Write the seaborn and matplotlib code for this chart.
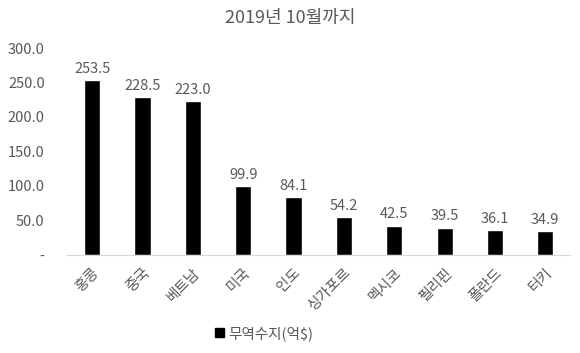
import matplotlib
matplotlib.use('Agg')
import matplotlib.pyplot as plt
import seaborn as sns
import pandas as pd
from matplotlib.ticker import FuncFormatter
from matplotlib.patches import Patch

countries = ['홍콩', '중국', '베트남', '미국', '인도', '싱가포르', '멕시코', '필리핀', '폴란드', '터키']
balance = [253.5, 228.5, 223.0, 99.9, 84.1, 54.2, 42.5, 39.5, 36.1, 34.9]
series_name = '무역수지(억$)'
title = '2019년 10월까지'

sns.set_style('white')
plt.rcParams['font.family'] = ['Noto Sans CJK KR', 'DejaVu Sans']
plt.rcParams['font.weight'] = 'light'
text_color = '#595959'

df = pd.DataFrame({'country': countries, 'value': balance})

fig = plt.figure(figsize=(5.8, 3.53), dpi=100)
ax = fig.add_axes([0.1155, 0.278, 0.868, 0.586])
sns.barplot(data=df, x='country', y='value', color='black', width=0.32,
            saturation=1, ax=ax)

ax.set_ylim(0, 300)
ax.set_yticks([0, 50, 100, 150, 200, 250, 300])
ax.yaxis.set_major_formatter(FuncFormatter(lambda v, p: '-' if v == 0 else f'{v:.1f}'))
ax.set_xlabel('')
ax.set_ylabel('')
for s in ['top', 'right', 'left']:
    ax.spines[s].set_visible(False)
ax.spines['bottom'].set_color('#d9d9d9')
ax.tick_params(axis='both', length=0, labelsize=10.5, colors=text_color, pad=8)
ax.tick_params(axis='y', pad=16)
plt.setp(ax.get_xticklabels(), rotation=45, ha='right', rotation_mode='anchor')

for i, v in enumerate(balance):
    ax.text(i, v + 6, f'{v:.1f}', ha='center', va='bottom', fontsize=10.5, color=text_color)

fig.text(0.5, 0.95, title, ha='center', va='center', fontsize=13, color=text_color)
fig.legend(handles=[Patch(color='black', label=series_name)], loc='center',
           bbox_to_anchor=(0.455, 0.055), frameon=False, fontsize=10.5,
           handlelength=0.6, handleheight=0.6, handletextpad=0.3,
           labelcolor=text_color)

fig.savefig('out.png', dpi=100)
